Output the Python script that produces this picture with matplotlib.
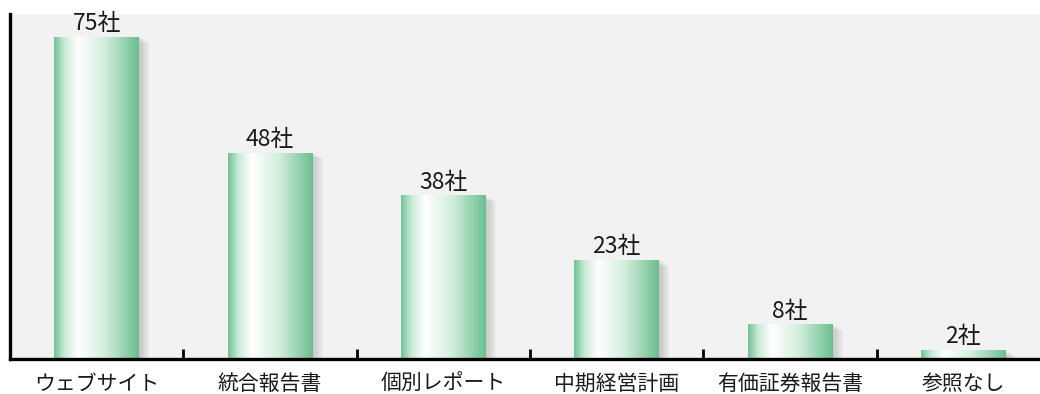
import numpy as np
import matplotlib.pyplot as plt
from matplotlib.colors import LinearSegmentedColormap
from matplotlib.patches import Rectangle

plt.rcParams['font.family'] = ['Noto Sans CJK JP', 'DejaVu Sans']

categories = ["ウェブサイト", "統合報告書", "個別レポート", "中期経営計画", "有価証券報告書", "参照なし"]
counts = [75, 48, 38, 23, 8, 2]
labels = [f"{v}社" for v in counts]

grad = LinearSegmentedColormap.from_list(
    "bar", [(0.0, "#6fc394"), (0.12, "#c9ead7"), (0.28, "#ffffff"),
            (0.6, "#d3eedd"), (1.0, "#6abf8e")])

fig = plt.figure(figsize=(10.4, 3.94), dpi=100)
ax = fig.add_axes([10 / 1040, 35 / 394, 1040 / 1040, 345 / 394])
ax.set_facecolor("#f2f2f2")

x = np.arange(len(categories))
bars = ax.bar(x, counts, width=0.49, color="none", edgecolor="none")

g = np.linspace(0, 1, 256).reshape(1, -1)
for b, lab in zip(bars, labels):
    x0, w, h = b.get_x(), b.get_width(), b.get_height()
    # soft shadow on the right
    for i in range(6):
        ax.add_patch(Rectangle((x0 + w * 0.02 * (i + 1), 0), w, h - 0.25 * i,
                               facecolor="#707070", alpha=0.06, edgecolor="none",
                               zorder=1))
    ax.imshow(g, cmap=grad, aspect="auto", extent=(x0, x0 + w, 0, h),
              zorder=2, interpolation="bicubic")
    ax.text(x0 + w / 2, h + 0.5, lab, ha="center", va="bottom", fontsize=16.5,
            color="#1a1a1a", clip_on=False, zorder=3)

ax.set_xlim(-0.5, len(categories) - 0.5)
ax.set_ylim(0, 80.4)
ax.set_xticks(x)
ax.set_xticklabels(categories, fontsize=15, color="#1a1a1a")
ax.tick_params(axis="x", length=0, pad=10)
ax.set_xticks(np.arange(0.5, len(categories) - 1, 1), minor=True)
ax.tick_params(axis="x", which="minor", direction="in", length=7, width=2, color="black")
ax.set_yticks([])

for s in ["top", "right"]:
    ax.spines[s].set_visible(False)
for s in ["left", "bottom"]:
    ax.spines[s].set_linewidth(2.4)
    ax.spines[s].set_color("black")
    ax.spines[s].set_zorder(5)

fig.savefig("out.png", dpi=100)
